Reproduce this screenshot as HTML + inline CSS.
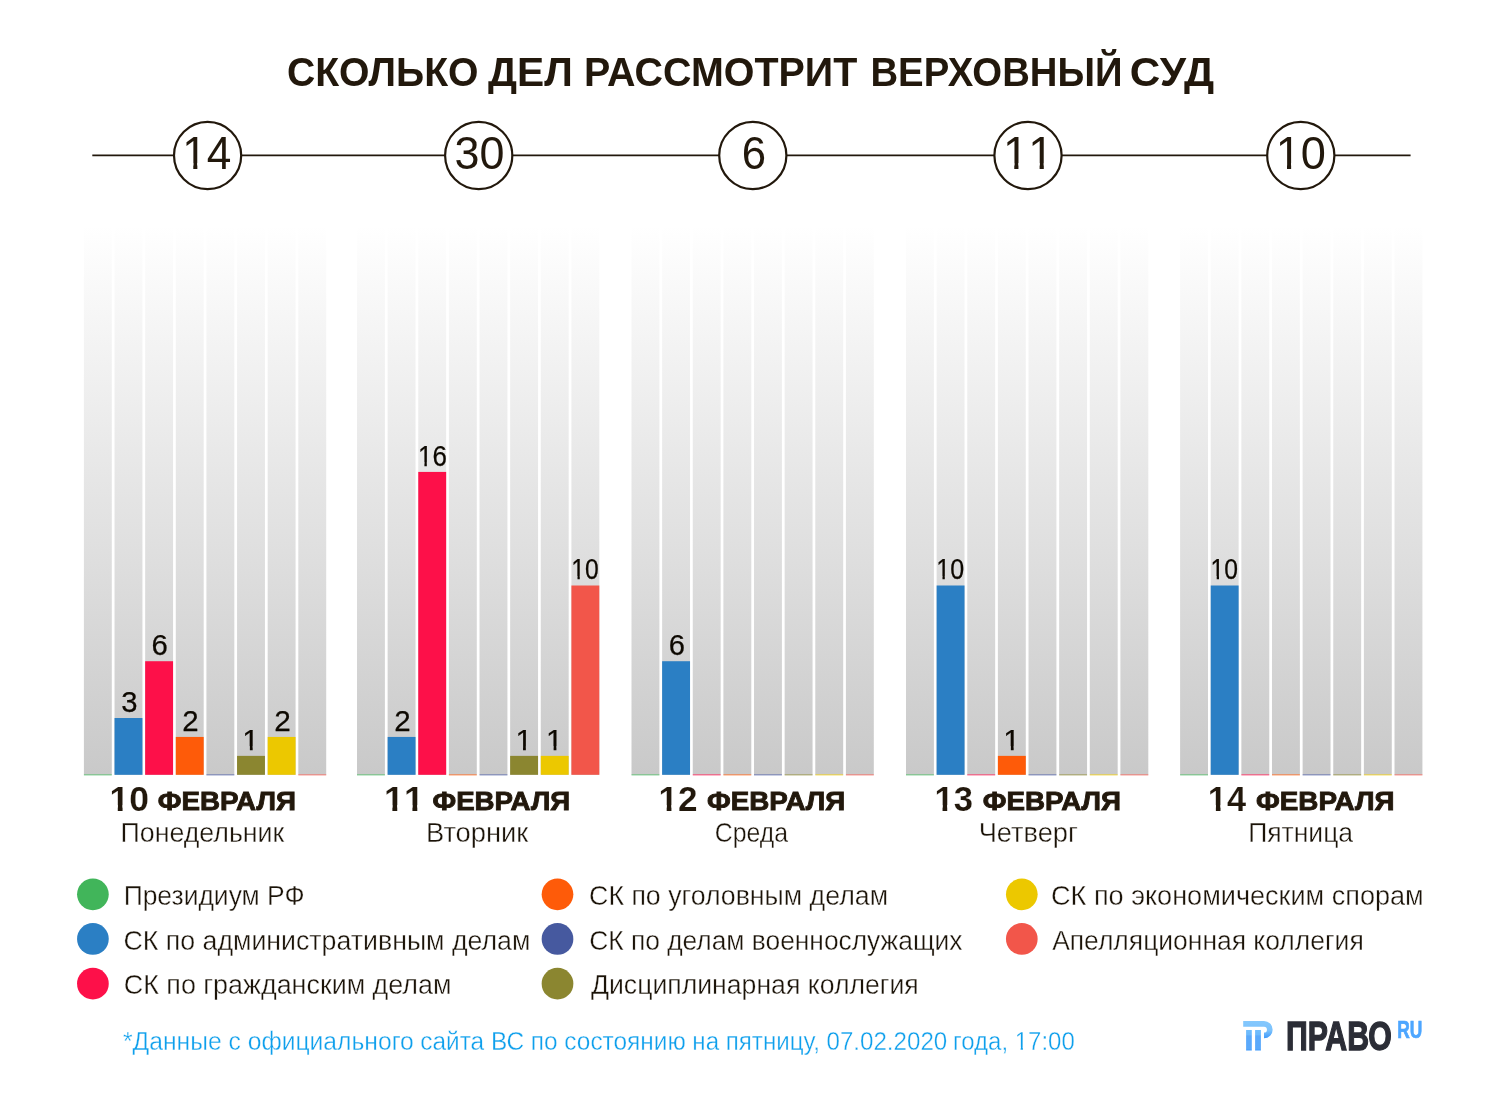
<!DOCTYPE html>
<html lang="ru">
<head>
<meta charset="utf-8">
<title>Сколько дел рассмотрит Верховный суд</title>
<style>
html,body{margin:0;padding:0;background:#fff;}
body{width:1500px;height:1104px;position:relative;overflow:hidden;font-family:"Liberation Sans",sans-serif;color:#22180c;}
.t{display:block;position:absolute;left:0;white-space:nowrap;transform-origin:0 0;margin:0;padding:0;}
.one{display:inline-block;clip-path:polygon(0 0,100% 0,100% .7em,.341em .7em,.341em 100%,.249em 100%,.249em .7em,0 .7em);}
.oneb{display:inline-block;clip-path:polygon(0 0,100% 0,100% .68em,.369em .68em,.369em 100%,.234em 100%,.234em .68em,0 .68em);}
h1,p{margin:0;padding:0;font:inherit;}
</style>
</head>
<body>
<svg class="totals" width="1500" height="220" viewBox="0 0 1500 220" style="position:absolute;left:0;top:0">
<line x1="92.3" y1="155.4" x2="1410.6" y2="155.4" stroke="#22180c" stroke-width="1.8"/>
<circle cx="207.6" cy="155.5" r="33.6" fill="#fff" stroke="#22180c" stroke-width="2.2"/>
<circle cx="478.7" cy="155.5" r="33.6" fill="#fff" stroke="#22180c" stroke-width="2.2"/>
<circle cx="752.8" cy="155.5" r="33.6" fill="#fff" stroke="#22180c" stroke-width="2.2"/>
<circle cx="1028" cy="155.5" r="33.6" fill="#fff" stroke="#22180c" stroke-width="2.2"/>
<circle cx="1300.8" cy="155.5" r="33.6" fill="#fff" stroke="#22180c" stroke-width="2.2"/>
</svg>
<svg class="chart" width="1500" height="1104" viewBox="0 0 1500 1104" style="position:absolute;left:0;top:0">
<defs><linearGradient id="colgrad" x1="0" y1="226" x2="0" y2="774.8" gradientUnits="userSpaceOnUse"><stop offset="0" stop-color="#ffffff"/><stop offset="1" stop-color="#c9c9c9"/></linearGradient></defs>
<g class="day-group">
<rect x="83.9" y="226" width="27.9" height="548.8" fill="url(#colgrad)"/><rect x="83.9" y="774.05" width="27.9" height="1.5" fill="#41b55a" fill-opacity="0.52"/>
<rect x="114.53" y="226" width="27.9" height="548.8" fill="url(#colgrad)"/><rect x="114.53" y="718.01" width="27.9" height="56.79" fill="#2b7fc4"/>
<rect x="145.16" y="226" width="27.9" height="548.8" fill="url(#colgrad)"/><rect x="145.16" y="661.22" width="27.9" height="113.58" fill="#fd1049"/>
<rect x="175.79" y="226" width="27.9" height="548.8" fill="url(#colgrad)"/><rect x="175.79" y="736.94" width="27.9" height="37.86" fill="#fe5b09"/>
<rect x="206.42" y="226" width="27.9" height="548.8" fill="url(#colgrad)"/><rect x="206.42" y="774.05" width="27.9" height="1.5" fill="#46599f" fill-opacity="0.52"/>
<rect x="237.05" y="226" width="27.9" height="548.8" fill="url(#colgrad)"/><rect x="237.05" y="755.87" width="27.9" height="18.93" fill="#8b8630"/>
<rect x="267.68" y="226" width="27.9" height="548.8" fill="url(#colgrad)"/><rect x="267.68" y="736.94" width="27.9" height="37.86" fill="#ecc800"/>
<rect x="298.31" y="226" width="27.9" height="548.8" fill="url(#colgrad)"/><rect x="298.31" y="774.05" width="27.9" height="1.5" fill="#f2564a" fill-opacity="0.52"/>
</g>
<g class="day-group">
<rect x="357" y="226" width="27.9" height="548.8" fill="url(#colgrad)"/><rect x="357" y="774.05" width="27.9" height="1.5" fill="#41b55a" fill-opacity="0.52"/>
<rect x="387.63" y="226" width="27.9" height="548.8" fill="url(#colgrad)"/><rect x="387.63" y="736.94" width="27.9" height="37.86" fill="#2b7fc4"/>
<rect x="418.26" y="226" width="27.9" height="548.8" fill="url(#colgrad)"/><rect x="418.26" y="471.92" width="27.9" height="302.88" fill="#fd1049"/>
<rect x="448.89" y="226" width="27.9" height="548.8" fill="url(#colgrad)"/><rect x="448.89" y="774.05" width="27.9" height="1.5" fill="#fe5b09" fill-opacity="0.52"/>
<rect x="479.52" y="226" width="27.9" height="548.8" fill="url(#colgrad)"/><rect x="479.52" y="774.05" width="27.9" height="1.5" fill="#46599f" fill-opacity="0.52"/>
<rect x="510.15" y="226" width="27.9" height="548.8" fill="url(#colgrad)"/><rect x="510.15" y="755.87" width="27.9" height="18.93" fill="#8b8630"/>
<rect x="540.78" y="226" width="27.9" height="548.8" fill="url(#colgrad)"/><rect x="540.78" y="755.87" width="27.9" height="18.93" fill="#ecc800"/>
<rect x="571.41" y="226" width="27.9" height="548.8" fill="url(#colgrad)"/><rect x="571.41" y="585.5" width="27.9" height="189.3" fill="#f2564a"/>
</g>
<g class="day-group">
<rect x="631.5" y="226" width="27.9" height="548.8" fill="url(#colgrad)"/><rect x="631.5" y="774.05" width="27.9" height="1.5" fill="#41b55a" fill-opacity="0.52"/>
<rect x="662.13" y="226" width="27.9" height="548.8" fill="url(#colgrad)"/><rect x="662.13" y="661.22" width="27.9" height="113.58" fill="#2b7fc4"/>
<rect x="692.76" y="226" width="27.9" height="548.8" fill="url(#colgrad)"/><rect x="692.76" y="774.05" width="27.9" height="1.5" fill="#fd1049" fill-opacity="0.52"/>
<rect x="723.39" y="226" width="27.9" height="548.8" fill="url(#colgrad)"/><rect x="723.39" y="774.05" width="27.9" height="1.5" fill="#fe5b09" fill-opacity="0.52"/>
<rect x="754.02" y="226" width="27.9" height="548.8" fill="url(#colgrad)"/><rect x="754.02" y="774.05" width="27.9" height="1.5" fill="#46599f" fill-opacity="0.52"/>
<rect x="784.65" y="226" width="27.9" height="548.8" fill="url(#colgrad)"/><rect x="784.65" y="774.05" width="27.9" height="1.5" fill="#8b8630" fill-opacity="0.52"/>
<rect x="815.28" y="226" width="27.9" height="548.8" fill="url(#colgrad)"/><rect x="815.28" y="774.05" width="27.9" height="1.5" fill="#ecc800" fill-opacity="0.52"/>
<rect x="845.91" y="226" width="27.9" height="548.8" fill="url(#colgrad)"/><rect x="845.91" y="774.05" width="27.9" height="1.5" fill="#f2564a" fill-opacity="0.52"/>
</g>
<g class="day-group">
<rect x="906" y="226" width="27.9" height="548.8" fill="url(#colgrad)"/><rect x="906" y="774.05" width="27.9" height="1.5" fill="#41b55a" fill-opacity="0.52"/>
<rect x="936.63" y="226" width="27.9" height="548.8" fill="url(#colgrad)"/><rect x="936.63" y="585.5" width="27.9" height="189.3" fill="#2b7fc4"/>
<rect x="967.26" y="226" width="27.9" height="548.8" fill="url(#colgrad)"/><rect x="967.26" y="774.05" width="27.9" height="1.5" fill="#fd1049" fill-opacity="0.52"/>
<rect x="997.89" y="226" width="27.9" height="548.8" fill="url(#colgrad)"/><rect x="997.89" y="755.87" width="27.9" height="18.93" fill="#fe5b09"/>
<rect x="1028.52" y="226" width="27.9" height="548.8" fill="url(#colgrad)"/><rect x="1028.52" y="774.05" width="27.9" height="1.5" fill="#46599f" fill-opacity="0.52"/>
<rect x="1059.15" y="226" width="27.9" height="548.8" fill="url(#colgrad)"/><rect x="1059.15" y="774.05" width="27.9" height="1.5" fill="#8b8630" fill-opacity="0.52"/>
<rect x="1089.78" y="226" width="27.9" height="548.8" fill="url(#colgrad)"/><rect x="1089.78" y="774.05" width="27.9" height="1.5" fill="#ecc800" fill-opacity="0.52"/>
<rect x="1120.41" y="226" width="27.9" height="548.8" fill="url(#colgrad)"/><rect x="1120.41" y="774.05" width="27.9" height="1.5" fill="#f2564a" fill-opacity="0.52"/>
</g>
<g class="day-group">
<rect x="1180.1" y="226" width="27.9" height="548.8" fill="url(#colgrad)"/><rect x="1180.1" y="774.05" width="27.9" height="1.5" fill="#41b55a" fill-opacity="0.52"/>
<rect x="1210.73" y="226" width="27.9" height="548.8" fill="url(#colgrad)"/><rect x="1210.73" y="585.5" width="27.9" height="189.3" fill="#2b7fc4"/>
<rect x="1241.36" y="226" width="27.9" height="548.8" fill="url(#colgrad)"/><rect x="1241.36" y="774.05" width="27.9" height="1.5" fill="#fd1049" fill-opacity="0.52"/>
<rect x="1271.99" y="226" width="27.9" height="548.8" fill="url(#colgrad)"/><rect x="1271.99" y="774.05" width="27.9" height="1.5" fill="#fe5b09" fill-opacity="0.52"/>
<rect x="1302.62" y="226" width="27.9" height="548.8" fill="url(#colgrad)"/><rect x="1302.62" y="774.05" width="27.9" height="1.5" fill="#46599f" fill-opacity="0.52"/>
<rect x="1333.25" y="226" width="27.9" height="548.8" fill="url(#colgrad)"/><rect x="1333.25" y="774.05" width="27.9" height="1.5" fill="#8b8630" fill-opacity="0.52"/>
<rect x="1363.88" y="226" width="27.9" height="548.8" fill="url(#colgrad)"/><rect x="1363.88" y="774.05" width="27.9" height="1.5" fill="#ecc800" fill-opacity="0.52"/>
<rect x="1394.51" y="226" width="27.9" height="548.8" fill="url(#colgrad)"/><rect x="1394.51" y="774.05" width="27.9" height="1.5" fill="#f2564a" fill-opacity="0.52"/>
</g>
<g class="legend-dots">
<circle cx="92.9" cy="894.35" r="15.85" fill="#41b55a"/>
<circle cx="92.9" cy="938.95" r="15.85" fill="#2b7fc4"/>
<circle cx="92.9" cy="983.65" r="15.85" fill="#fd1049"/>
<circle cx="557.5" cy="894.35" r="15.85" fill="#fe5b09"/>
<circle cx="557.5" cy="938.95" r="15.85" fill="#46599f"/>
<circle cx="557.5" cy="983.65" r="15.85" fill="#8b8630"/>
<circle cx="1021.8" cy="894.35" r="15.85" fill="#ecc800"/>
<circle cx="1021.8" cy="938.95" r="15.85" fill="#f2564a"/>
</g>
</svg>
<svg class="logo-icon" width="40" height="40" viewBox="1238 1016 40 40" style="position:absolute;left:1238px;top:1016px">
<defs>
<linearGradient id="lg1" x1="0" y1="1021" x2="0" y2="1038.3" gradientUnits="userSpaceOnUse"><stop offset="0" stop-color="#84c8fd"/><stop offset="0.55" stop-color="#7cc2fc"/><stop offset="1" stop-color="#3f99fb"/></linearGradient>
<linearGradient id="lg2" x1="0" y1="1030" x2="0" y2="1050.5" gradientUnits="userSpaceOnUse"><stop offset="0" stop-color="#70bdfd"/><stop offset="0.22" stop-color="#6bb9fc"/><stop offset="0.3" stop-color="#5aa9fb"/><stop offset="0.92" stop-color="#5aa9fb"/><stop offset="1" stop-color="#3f99fb"/></linearGradient>
</defs>
<path d="M1243.2 1023.85 H1264 A5.8 5.8 0 0 1 1264 1035.45" fill="none" stroke="url(#lg1)" stroke-width="5.7"/>
<rect x="1246.1" y="1030" width="5.7" height="20.5" fill="url(#lg2)"/>
<rect x="1255.1" y="1030" width="5.8" height="20.5" fill="url(#lg2)"/>
</svg>
<h1 class="headline">
<span class="t title" style="top:51.97px;font-size:41.14px;line-height:41.14px;font-weight:700;color:#22180c;transform:translateX(286.94px) scaleX(0.9519)">СКОЛЬКО</span>
<span class="t title" style="top:51.97px;font-size:41.14px;line-height:41.14px;font-weight:700;color:#22180c;transform:translateX(488.03px) scaleX(0.9891)">ДЕЛ</span>
<span class="t title" style="top:51.97px;font-size:41.14px;line-height:41.14px;font-weight:700;color:#22180c;transform:translateX(584.09px) scaleX(0.9591)">РАССМОТРИТ</span>
<span class="t title" style="top:51.97px;font-size:41.14px;line-height:41.14px;font-weight:700;color:#22180c;transform:translateX(870.42px) scaleX(0.9319)">ВЕРХОВНЫЙ</span>
<span class="t title" style="top:51.97px;font-size:41.14px;line-height:41.14px;font-weight:700;color:#22180c;transform:translateX(1129.84px) scaleX(1.0279)">СУД</span>
</h1>
<div class="totals-numbers">
<span class="t total" style="top:131.1px;font-size:45.71px;line-height:45.71px;font-weight:400;color:#22180c;transform:translateX(182.28px) scaleX(0.9665)"><span class="one">1</span>4</span>
<span class="t total" style="top:131.1px;font-size:45.71px;line-height:45.71px;font-weight:400;color:#22180c;transform:translateX(454.61px) scaleX(0.9828)">30</span>
<span class="t total" style="top:131.1px;font-size:45.71px;line-height:45.71px;font-weight:400;color:#22180c;transform:translateX(741.81px) scaleX(0.9573)">6</span>
<span class="t total" style="top:131.1px;font-size:45.71px;line-height:45.71px;font-weight:400;color:#22180c;transform:translateX(1002.91px) scaleX(0.9971)"><span class="one">1</span><span class="one">1</span></span>
<span class="t total" style="top:131.1px;font-size:45.71px;line-height:45.71px;font-weight:400;color:#22180c;transform:translateX(1275.72px) scaleX(0.9886)"><span class="one">1</span>0</span>
</div>
<div class="value-labels">
<span class="t val" style="top:687.96px;font-size:29.21px;line-height:29.21px;font-weight:400;color:#0d0800;transform:translateX(121.15px) scaleX(0.9998);-webkit-text-stroke:0.25px #0d0800">3</span>
<span class="t val" style="top:631.17px;font-size:29.21px;line-height:29.21px;font-weight:400;color:#0d0800;transform:translateX(151.58px) scaleX(1.0042);-webkit-text-stroke:0.25px #0d0800">6</span>
<span class="t val" style="top:706.89px;font-size:29.21px;line-height:29.21px;font-weight:400;color:#0d0800;transform:translateX(182.15px) scaleX(1.0069);-webkit-text-stroke:0.25px #0d0800">2</span>
<span class="t val" style="top:725.82px;font-size:29.21px;line-height:29.21px;font-weight:400;color:#0d0800;transform:translateX(242.31px) scaleX(1.0400);-webkit-text-stroke:0.25px #0d0800"><span class="one">1</span></span>
<span class="t val" style="top:706.89px;font-size:29.21px;line-height:29.21px;font-weight:400;color:#0d0800;transform:translateX(274.22px) scaleX(1.0194);-webkit-text-stroke:0.25px #0d0800">2</span>
<span class="t val" style="top:706.89px;font-size:29.21px;line-height:29.21px;font-weight:400;color:#0d0800;transform:translateX(394.16px) scaleX(1.0093);-webkit-text-stroke:0.25px #0d0800">2</span>
<span class="t val" style="top:441.87px;font-size:29.21px;line-height:29.21px;font-weight:400;color:#0d0800;transform:translateX(417.96px) scaleX(0.8888);-webkit-text-stroke:0.25px #0d0800"><span class="one">1</span>6</span>
<span class="t val" style="top:725.82px;font-size:29.21px;line-height:29.21px;font-weight:400;color:#0d0800;transform:translateX(515.47px) scaleX(1.0400);-webkit-text-stroke:0.25px #0d0800"><span class="one">1</span></span>
<span class="t val" style="top:725.82px;font-size:29.21px;line-height:29.21px;font-weight:400;color:#0d0800;transform:translateX(546.05px) scaleX(1.0400);-webkit-text-stroke:0.25px #0d0800"><span class="one">1</span></span>
<span class="t val" style="top:555.45px;font-size:29.21px;line-height:29.21px;font-weight:400;color:#0d0800;transform:translateX(571.34px) scaleX(0.8461);-webkit-text-stroke:0.25px #0d0800"><span class="one">1</span>0</span>
<span class="t val" style="top:631.17px;font-size:29.21px;line-height:29.21px;font-weight:400;color:#0d0800;transform:translateX(668.64px) scaleX(0.9976);-webkit-text-stroke:0.25px #0d0800">6</span>
<span class="t val" style="top:555.45px;font-size:29.21px;line-height:29.21px;font-weight:400;color:#0d0800;transform:translateX(936.24px) scaleX(0.8583);-webkit-text-stroke:0.25px #0d0800"><span class="one">1</span>0</span>
<span class="t val" style="top:725.82px;font-size:29.21px;line-height:29.21px;font-weight:400;color:#0d0800;transform:translateX(1003.29px) scaleX(1.0400);-webkit-text-stroke:0.25px #0d0800"><span class="one">1</span></span>
<span class="t val" style="top:555.45px;font-size:29.21px;line-height:29.21px;font-weight:400;color:#0d0800;transform:translateX(1210.56px) scaleX(0.8449);-webkit-text-stroke:0.25px #0d0800"><span class="one">1</span>0</span>
</div>
<div class="dates">
<span class="t day" style="top:781.67px;font-size:34.5px;line-height:34.5px;font-weight:700;color:#22180c;transform:translateX(109.48px) scaleX(1.0275);-webkit-text-stroke:0.15px #ffffff"><span class="oneb">1</span>0</span>
<span class="t month" style="top:788.67px;font-size:25.64px;line-height:25.64px;font-weight:700;color:#22180c;transform:translateX(157.75px) scaleX(1.0838);-webkit-text-stroke:0.85px #22180c">ФЕВРАЛЯ</span>
<span class="t day" style="top:781.67px;font-size:34.5px;line-height:34.5px;font-weight:700;color:#22180c;transform:translateX(383.95px) scaleX(1.0447);-webkit-text-stroke:0.15px #ffffff"><span class="oneb">1</span><span class="oneb">1</span></span>
<span class="t month" style="top:788.67px;font-size:25.64px;line-height:25.64px;font-weight:700;color:#22180c;transform:translateX(432.51px) scaleX(1.0798);-webkit-text-stroke:0.85px #22180c">ФЕВРАЛЯ</span>
<span class="t day" style="top:781.67px;font-size:34.5px;line-height:34.5px;font-weight:700;color:#22180c;transform:translateX(658.5px) scaleX(1.0161);-webkit-text-stroke:0.15px #ffffff"><span class="oneb">1</span>2</span>
<span class="t month" style="top:788.67px;font-size:25.64px;line-height:25.64px;font-weight:700;color:#22180c;transform:translateX(706.94px) scaleX(1.0849);-webkit-text-stroke:0.85px #22180c">ФЕВРАЛЯ</span>
<span class="t day" style="top:781.67px;font-size:34.5px;line-height:34.5px;font-weight:700;color:#22180c;transform:translateX(934.45px) scaleX(1.0027);-webkit-text-stroke:0.15px #ffffff"><span class="oneb">1</span>3</span>
<span class="t month" style="top:788.67px;font-size:25.64px;line-height:25.64px;font-weight:700;color:#22180c;transform:translateX(982.86px) scaleX(1.0833);-webkit-text-stroke:0.85px #22180c">ФЕВРАЛЯ</span>
<span class="t day" style="top:781.67px;font-size:34.5px;line-height:34.5px;font-weight:700;color:#22180c;transform:translateX(1207.82px) scaleX(0.9973);-webkit-text-stroke:0.15px #ffffff"><span class="oneb">1</span>4</span>
<span class="t month" style="top:788.67px;font-size:25.64px;line-height:25.64px;font-weight:700;color:#22180c;transform:translateX(1255.94px) scaleX(1.0870);-webkit-text-stroke:0.85px #22180c">ФЕВРАЛЯ</span>
<span class="t weekday" style="top:819.17px;font-size:27.17px;line-height:27.17px;font-weight:400;color:#1b1308;transform:translateX(120.54px) scaleX(0.9850);-webkit-text-stroke:0.35px #ffffff">Понедельник</span>
<span class="t weekday" style="top:819.17px;font-size:27.17px;line-height:27.17px;font-weight:400;color:#1b1308;transform:translateX(426.09px) scaleX(1.0063);-webkit-text-stroke:0.35px #ffffff">Вторник</span>
<span class="t weekday" style="top:819.17px;font-size:27.17px;line-height:27.17px;font-weight:400;color:#1b1308;transform:translateX(714.8px) scaleX(0.9136);-webkit-text-stroke:0.35px #ffffff">Среда</span>
<span class="t weekday" style="top:819.17px;font-size:27.17px;line-height:27.17px;font-weight:400;color:#1b1308;transform:translateX(978.67px) scaleX(1.0017);-webkit-text-stroke:0.35px #ffffff">Четверг</span>
<span class="t weekday" style="top:819.17px;font-size:27.17px;line-height:27.17px;font-weight:400;color:#1b1308;transform:translateX(1248.14px) scaleX(0.9764);-webkit-text-stroke:0.35px #ffffff">Пятница</span>
</div>
<div class="legend">
<span class="t leg" style="top:882.05px;font-size:27.32px;line-height:27.32px;font-weight:400;color:#1b1308;transform:translateX(123.64px) scaleX(0.9688);-webkit-text-stroke:0.35px #ffffff">Президиум РФ</span>
<span class="t leg" style="top:926.55px;font-size:27.32px;line-height:27.32px;font-weight:400;color:#1b1308;transform:translateX(123.49px) scaleX(0.9786);-webkit-text-stroke:0.35px #ffffff">СК по административным делам</span>
<span class="t leg" style="top:971.15px;font-size:27.32px;line-height:27.32px;font-weight:400;color:#1b1308;transform:translateX(123.82px) scaleX(0.9839);-webkit-text-stroke:0.35px #ffffff">СК по гражданским делам</span>
<span class="t leg" style="top:882.05px;font-size:27.32px;line-height:27.32px;font-weight:400;color:#1b1308;transform:translateX(589.11px) scaleX(0.9782);-webkit-text-stroke:0.35px #ffffff">СК по уголовным делам</span>
<span class="t leg" style="top:926.55px;font-size:27.32px;line-height:27.32px;font-weight:400;color:#1b1308;transform:translateX(589.17px) scaleX(0.9650);-webkit-text-stroke:0.35px #ffffff">СК по делам военнослужащих</span>
<span class="t leg" style="top:971.15px;font-size:27.32px;line-height:27.32px;font-weight:400;color:#1b1308;transform:translateX(590.95px) scaleX(0.9747);-webkit-text-stroke:0.35px #ffffff">Дисциплинарная коллегия</span>
<span class="t leg" style="top:882.05px;font-size:27.32px;line-height:27.32px;font-weight:400;color:#1b1308;transform:translateX(1051.04px) scaleX(0.9913);-webkit-text-stroke:0.35px #ffffff">СК по экономическим спорам</span>
<span class="t leg" style="top:926.55px;font-size:27.32px;line-height:27.32px;font-weight:400;color:#1b1308;transform:translateX(1052.14px) scaleX(0.9685);-webkit-text-stroke:0.35px #ffffff">Апелляционная коллегия</span>
</div>
<p class="footnote">
<span class="t note" style="top:1029.21px;font-size:25px;line-height:25px;font-weight:400;color:#0d9fec;transform:translateX(122.97px) scaleX(0.9863);-webkit-text-stroke:0.35px #ffffff">*Данные с официального</span>
<span class="t note" style="top:1029.21px;font-size:25px;line-height:25px;font-weight:400;color:#0d9fec;transform:translateX(420.26px) scaleX(0.9762);-webkit-text-stroke:0.35px #ffffff">сайта ВС по состоянию</span>
<span class="t note" style="top:1029.21px;font-size:25px;line-height:25px;font-weight:400;color:#0d9fec;transform:translateX(692.33px) scaleX(0.9644);-webkit-text-stroke:0.35px #ffffff">на пятницу, 07.02.2020</span>
<span class="t note" style="top:1029.21px;font-size:25px;line-height:25px;font-weight:400;color:#0d9fec;transform:translateX(953.08px) scaleX(0.9587);-webkit-text-stroke:0.35px #ffffff">года, <span class="one">1</span>7:00</span>
</p>
<div class="brand">
<span class="t logo" style="top:1016.57px;font-size:40.14px;line-height:40.14px;font-weight:700;color:#2b2d36;transform:translateX(1286.05px) scaleX(0.7542);-webkit-text-stroke:1.3px #2b2d36">ПРАВО</span>
<span class="t logoru" style="top:1019.1px;font-size:23.57px;line-height:23.57px;font-weight:700;color:#4da6ff;transform:translateX(1397.24px) scaleX(0.7360);-webkit-text-stroke:0.7px #4da6ff">RU</span>
</div>
</body>
</html>
